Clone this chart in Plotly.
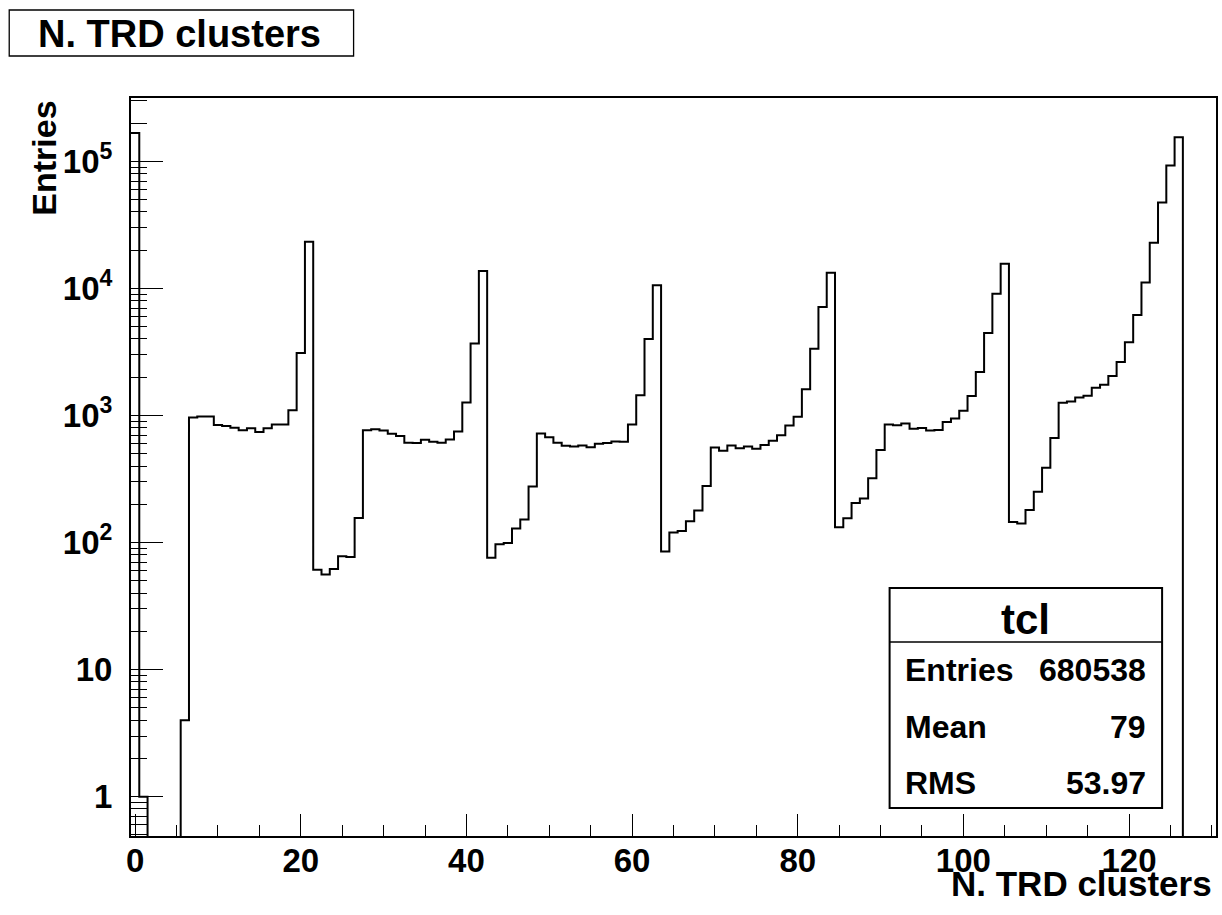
import numpy as np
import plotly.graph_objects as go

# ---------------- data ----------------
bin_centers = list(range(0, 131))
counts = [
    167000, 1, 0, 0, 0, 0, 4, 965, 980, 980,                 # 0-9
    841, 827, 800, 763, 794, 742, 794, 847, 847, 1100,        # 10-19
    3100, 23300, 61, 56, 62, 78, 77, 156, 763, 780,           # 20-29
    760, 718, 688, 609, 606, 643, 621, 609, 647, 748,         # 30-39
    1265, 3690, 13700, 76, 97, 99, 129, 152, 276, 722,        # 40-49
    675, 609, 577, 570, 580, 563, 599, 606, 624, 621,         # 50-59
    849, 1445, 3990, 10600, 85, 120, 123, 147, 179, 279,      # 60-69
    560, 527, 580, 553, 570, 547, 584, 631, 699, 834,         # 70-79
    976, 1604, 3350, 7130, 13300, 132, 155, 205, 222, 321,    # 80-89
    534, 849, 839, 865, 785, 795, 762, 767, 886, 946,         # 90-99
    1088, 1420, 2195, 4450, 9080, 15600, 145, 141, 180, 251,  # 100-109
    387, 663, 1259, 1290, 1386, 1429, 1652, 1743, 2040, 2630, # 110-119
    3760, 6170, 11100, 22900, 47500, 92500, 155000, 0, 0, 0,  # 120-129
    0,                                                        # 130
]
x_major_ticks = [0, 20, 40, 60, 80, 100, 120]
y_major_ticks = [1, 10, 100, 1000, 10000, 100000]
y_tick_labels = ["1", "10", "10<sup>2</sup>", "10<sup>3</sup>",
                 "10<sup>4</sup>", "10<sup>5</sup>"]
hist_name = "tcl"
stat_names = ["Entries", "Mean", "RMS"]
stat_values = ["680538", "79", "53.97"]
title_text = "N. TRD clusters"
x_title = "N. TRD clusters"
y_title = "Entries"

# ---------------- geometry ----------------
W, H = 1222, 915
PL, PR, PT, PB = 131, 1218, 98, 836   # plot area in pixels
FONT = "Liberation Sans, Arial, Helvetica, sans-serif"

def px(x):
    return (x - PL) / (PR - PL)

def py(y):
    return (PB - y) / (PB - PT)

y_lo, y_hi = 0.49, 3.15e5
x_lo, x_hi = -0.5, 130.5

# step outline through bin edges
c = np.array(counts, dtype=float)
floor = y_lo / 100.0
c_draw = np.where(c > 0, c, floor)
edges = np.array(bin_centers, dtype=float) - 0.5
x_step = np.append(edges, edges[-1] + 1.0)
y_step = np.append(c_draw, c_draw[-1])

minor_y = []
for e in range(-1, 6):
    for m in range(1, 10):
        v = m * 10.0 ** e
        if y_lo <= v <= y_hi and v not in y_major_ticks:
            minor_y.append(v)
minor_y = sorted(set(minor_y))

fig = go.Figure()
fig.add_trace(go.Scatter(
    x=x_step, y=y_step, mode="lines", line_shape="hv",
    line=dict(color="black", width=2), hoverinfo="skip", showlegend=False,
))

axis_font = dict(family=FONT, size=33, color="black", weight="bold")

fig.update_layout(
    width=W, height=H,
    margin=dict(l=PL, r=W - PR, t=PT, b=H - PB, pad=0),
    paper_bgcolor="white", plot_bgcolor="white",
    font=dict(family=FONT, color="black", weight="bold"),
    showlegend=False,
    xaxis=dict(
        range=[x_lo, x_hi], showgrid=False, zeroline=False,
        showline=True, mirror=True, linecolor="black", linewidth=2,
        ticks="inside", ticklen=22, tickwidth=1, tickcolor="black",
        tickmode="array", tickvals=x_major_ticks,
        ticktext=[str(v) for v in x_major_ticks],
        tickfont=axis_font, ticklabelstandoff=-6,
        minor=dict(ticks="inside", dtick=5, tick0=0, ticklen=11,
                   tickwidth=1, tickcolor="black", showgrid=False),
    ),
    yaxis=dict(
        type="log", range=[np.log10(y_lo), np.log10(y_hi)],
        showgrid=False, zeroline=False,
        showline=True, mirror=True, linecolor="black", linewidth=2,
        ticks="inside", ticklen=32, tickwidth=1, tickcolor="black",
        tickmode="array", tickvals=y_major_ticks, ticktext=y_tick_labels,
        tickfont=axis_font, ticklabelstandoff=10,
        minor=dict(ticks="inside", tickmode="array", tickvals=minor_y,
                   ticklen=16, tickwidth=1, tickcolor="black", showgrid=False),
    ),
)

shapes = []
annotations = []

# title box
shapes.append(dict(type="rect", xref="paper", yref="paper",
                   x0=px(9), x1=px(354), y0=py(56), y1=py(10),
                   line=dict(color="black", width=1.3), fillcolor="white"))
annotations.append(dict(xref="paper", yref="paper", x=px(180), y=py(34),
                        xanchor="center", yanchor="middle", showarrow=False,
                        text=title_text,
                        font=dict(family=FONT, size=38, color="black", weight="bold")))

# axis titles
annotations.append(dict(xref="paper", yref="paper", x=px(1216), y=py(884),
                        xanchor="right", yanchor="middle", showarrow=False,
                        text=x_title,
                        font=dict(family=FONT, size=35, color="black", weight="bold")))
annotations.append(dict(xref="paper", yref="paper", x=px(44), y=py(99),
                        xanchor="center", yanchor="top", showarrow=False,
                        textangle=-90, text=y_title,
                        font=dict(family=FONT, size=34, color="black", weight="bold")))

# stats box
shapes.append(dict(type="rect", xref="paper", yref="paper", layer="above",
                   x0=px(891), x1=px(1164), y0=py(808), y1=py(588),
                   line=dict(color="black", width=2), fillcolor="white"))
shapes.append(dict(type="line", xref="paper", yref="paper", layer="above",
                   x0=px(891), x1=px(1164), y0=py(642), y1=py(642),
                   line=dict(color="black", width=1.5)))
annotations.append(dict(xref="paper", yref="paper", x=px(1027.5), y=py(619),
                        xanchor="center", yanchor="middle", showarrow=False,
                        text=hist_name,
                        font=dict(family=FONT, size=42, color="black", weight="bold")))
row_y = [670, 727, 783]
for name, val, yy in zip(stat_names, stat_values, row_y):
    annotations.append(dict(xref="paper", yref="paper", x=px(904), y=py(yy),
                            xanchor="left", yanchor="middle", showarrow=False,
                            text=name,
                            font=dict(family=FONT, size=32, color="black", weight="bold")))
    annotations.append(dict(xref="paper", yref="paper", x=px(1150), y=py(yy),
                            xanchor="right", yanchor="middle", showarrow=False,
                            text=val,
                            font=dict(family=FONT, size=32, color="black", weight="bold")))

fig.update_layout(shapes=shapes, annotations=annotations)
fig.write_html("out.html")
